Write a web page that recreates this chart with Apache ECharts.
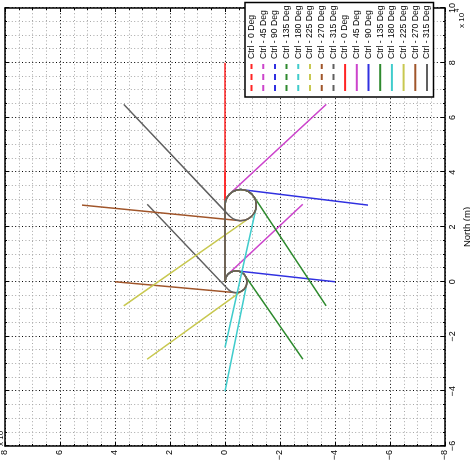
<!DOCTYPE html>
<html>
<head>
<meta charset="utf-8">
<script src="https://cdn.jsdelivr.net/npm/echarts@6/dist/echarts.min.js"></script>
<style>
    html, body { margin: 0; padding: 0; background: #fff; overflow: hidden; }
    /* 原图整体逆时针转了 90 度, 先按原方向画, 再整体旋转 */
    #main {
        position: absolute; left: 0; top: 0;
        width: 464px; height: 470px;
        transform-origin: 0 0;
        transform: translateY(464px) rotate(-90deg);
    }
</style>
</head>
<body>
<div id="main"></div>
<script>
// 航向 (deg)
var headings = [0, 45, 90, 135, 180, 225, 270, 315];
var lineColors = ['#ff2424', '#cc44cc', '#3030e0', '#2e8a2e', '#40cccc', '#c8c850', '#a0552a', '#606060'];

// 转弯小圆 (起点 0,0), 每 15 度一个点, [north, east] x 1e4 m
var loopA = [[0, 0], [0.104, -0.014], [0.2, -0.054], [0.283, -0.117], [0.346, -0.2], [0.386, -0.297],
    [0.4, -0.4], [0.386, -0.504], [0.346, -0.6], [0.283, -0.683], [0.2, -0.746], [0.104, -0.786],
    [0, -0.8], [-0.104, -0.786], [-0.2, -0.746], [-0.283, -0.683], [-0.346, -0.6], [-0.386, -0.504],
    [-0.4, -0.4], [-0.386, -0.297], [-0.346, -0.2], [-0.283, -0.117], [-0.2, -0.054], [-0.104, -0.014]];
// 转弯大圆 (起点 2.8,0)
var loopB = [[2.8, 0], [2.948, -0.019], [3.085, -0.076], [3.203, -0.167], [3.294, -0.285], [3.351, -0.423],
    [3.37, -0.57], [3.351, -0.718], [3.294, -0.855], [3.203, -0.973], [3.085, -1.064], [2.948, -1.121],
    [2.8, -1.14], [2.653, -1.121], [2.515, -1.064], [2.397, -0.973], [2.306, -0.855], [2.249, -0.718],
    [2.23, -0.57], [2.249, -0.423], [2.306, -0.285], [2.397, -0.167], [2.515, -0.076], [2.653, -0.019]];
// 每条轨迹在圆上走过的点数
var turnCount = [1, 4, 7, 10, 13, 16, 19, 22];
// 出圆切点 和 终点
var exitA = [[0, 0], [0.292, -0.126], [0.398, -0.445], [0.227, -0.73], [-0.079, -0.792], [-0.324, -0.635], [-0.398, -0.364], [-0.275, -0.109]];
var targetA = [[4, 0], [2.83, -2.83], [0, -4], [-2.83, -2.83], [-4, 0], [-2.83, 2.83], [0, 4], [2.83, 2.83]];
var exitB = [[2.8, 0], [3.217, -0.181], [3.366, -0.64], [3.114, -1.046], [2.677, -1.127], [2.334, -0.898], [2.233, -0.514], [2.409, -0.155]];
var targetB = [[8, 0], [6.48, -3.68], [2.8, -5.2], [-0.88, -3.68], [-2.4, 0], [-0.88, 3.68], [2.8, 5.2], [6.48, 3.68]];
var startB = [0, 0];

var myChart = echarts.init(document.getElementById('main'));

function buildPath(start, loop, count, exit, target) {
    var pts = start ? [start] : [];
    pts = pts.concat(loop.slice(0, count));
    pts.push(exit, target);
    return pts;
}

var series = [];
var legendData = [];
// 第一组 (图例为虚线)
headings.forEach(function (h, i) {
    var name = 'Ctrl - ' + h + ' Deg#a';
    series.push({
        name: name, type: 'line', symbol: 'none', silent: true,
        lineStyle: { color: lineColors[i], width: 1.5 },
        itemStyle: { color: lineColors[i] },
        data: buildPath(null, loopA, turnCount[i], exitA[i], targetA[i])
    });
    legendData.push({ name: name, lineStyle: { type: [6, 5] } });
});
// 第二组 (实线)
headings.forEach(function (h, i) {
    var name = 'Ctrl - ' + h + ' Deg#b';
    series.push({
        name: name, type: 'line', symbol: 'none', silent: true,
        lineStyle: { color: lineColors[i], width: 1.5 },
        itemStyle: { color: lineColors[i] },
        data: buildPath(startB, loopB, turnCount[i], exitB[i], targetB[i])
    });
    legendData.push({ name: name });
});

var font = 'Liberation Sans';
var minus = function (v) { return String(v).replace('-', '\u2212'); };

var tickStyle = { color: '#000', width: 1 };
function axisCommon(extra) {
    return Object.assign({
        type: 'value',
        axisLine: { show: true, onZero: false, lineStyle: { color: '#000', width: 1.5 } },
        axisTick: { show: true, inside: true, length: 4, lineStyle: tickStyle },
        minorTick: { show: true, inside: true, splitNumber: 4, length: 2, lineStyle: tickStyle },
        axisLabel: { show: false },
        splitLine: { show: false },
        minorSplitLine: { show: false }
    }, extra);
}

var option = {
    animation: false,
    backgroundColor: '#fff',
    grid: { left: 18, right: 8, top: 5, bottom: 25, containLabel: false, outerBoundsMode: 'none' },
    legend: {
        orient: 'vertical',
        left: 367, top: 245,
        itemWidth: 27, itemHeight: 9, itemGap: 2.7,
        itemTextGap: 4,
        padding: [2, 3, 2, 5],
        borderColor: '#000', borderWidth: 1.5,
        backgroundColor: '#fff',
        selectedMode: false,
        // 图例里不画圆点, 只要线
        itemStyle: { opacity: 0 },
        textStyle: { fontFamily: font, fontSize: 8.6, color: '#000' },
        formatter: function (name) { return name.split('#')[0]; },
        data: legendData
    },
    xAxis: [
        axisCommon({
            min: -6, max: 10, interval: 2, position: 'bottom',
            name: 'North (m)', nameLocation: 'middle', nameGap: 11,
            nameTextStyle: { fontFamily: font, fontSize: 9.5, color: '#000' },
            axisLabel: { show: true, margin: 3, fontFamily: font, fontSize: 9, color: '#000', formatter: minus },
            splitLine: { show: true, lineStyle: { color: '#000', width: 1, type: [1, 2.4] } },
            minorSplitLine: { show: true, lineStyle: { color: '#a8a8a8', width: 1, type: [1, 2.4] } }
        }),
        axisCommon({ min: -6, max: 10, interval: 2, position: 'top' })
    ],
    yAxis: [
        axisCommon({
            min: -8, max: 8, interval: 2, position: 'left',
            name: 'East (m)', nameLocation: 'middle', nameGap: 11, nameRotate: 90,
            nameTextStyle: { fontFamily: font, fontSize: 9.5, color: '#000' },
            axisLabel: { show: true, margin: 4, fontFamily: font, fontSize: 9, color: '#000', formatter: minus },
            splitLine: { show: true, lineStyle: { color: '#000', width: 1, type: [1, 2.4] } },
            minorSplitLine: { show: true, lineStyle: { color: '#a8a8a8', width: 1, type: [1, 2.4] } }
        }),
        axisCommon({ min: -8, max: 8, interval: 2, position: 'right' })
    ],
    // 坐标轴的 x 10^4
    graphic: [
        { type: 'text', left: 436, top: 458, style: { text: 'x 10', fontFamily: font, fontSize: 8, fill: '#000' } },
        { type: 'text', left: 452, top: 454, style: { text: '4', fontFamily: font, fontSize: 6, fill: '#000' } },
        { type: 'text', left: 18, top: -3, style: { text: 'x 10', fontFamily: font, fontSize: 8, fill: '#000' } },
        { type: 'text', left: 34, top: -7, style: { text: '4', fontFamily: font, fontSize: 6, fill: '#000' } }
    ],
    series: series
};

myChart.setOption(option);

window.addEventListener('resize', function () {
    myChart.resize();
});
</script>
</body>
</html>
